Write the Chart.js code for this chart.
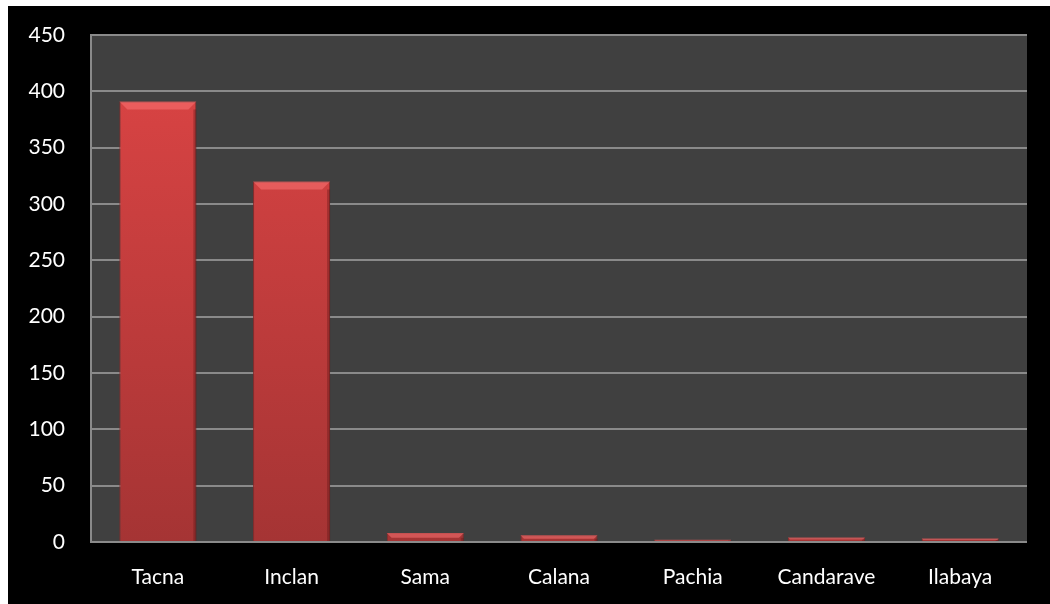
<!DOCTYPE html>
<html>
<head>
<meta charset="utf-8">
<script src="https://cdn.jsdelivr.net/npm/chart.js@4/dist/chart.umd.min.js"></script>
<style>
    html, body { margin: 0; padding: 0; background: #fff; }
    #wrap { position: absolute; left: 8px; top: 6px; width: 1042px; height: 598px; background: #000; }
</style>
</head>
<body>
<div id="wrap"><canvas id="chart" width="1042" height="598"></canvas></div>
<script>
const categories = ['Tacna', 'Inclan', 'Sama', 'Calana', 'Pachia', 'Candarave', 'Ilabaya'];
const values = [391, 320, 8, 6, 2, 4, 3];
const yTicks = [0, 50, 100, 150, 200, 250, 300, 350, 400, 450];

const FONT = { family: 'Lato, "Open Sans", sans-serif', size: 21 };

// light top bevel on each bar
const bevelPlugin = {
    id: 'bevel',
    afterDatasetsDraw(chart) {
        const ctx = chart.ctx;
        chart.getDatasetMeta(0).data.forEach((bar) => {
            const left = bar.x - bar.width / 2;
            const right = bar.x + bar.width / 2;
            const top = bar.y;
            const h = Math.min(8, (bar.base - bar.y) * 0.6);
            if (h <= 0) return;
            ctx.save();
            ctx.fillStyle = 'rgba(255, 120, 120, 0.5)';
            ctx.beginPath();
            ctx.moveTo(left, top);
            ctx.lineTo(right, top);
            ctx.lineTo(right - h, top + h);
            ctx.lineTo(left + h, top + h);
            ctx.closePath();
            ctx.fill();
            ctx.fillStyle = 'rgba(90, 20, 20, 0.35)';
            ctx.fillRect(right - 3, top + h, 3, bar.base - top - h);
            ctx.restore();
        });
    }
};

new Chart(document.getElementById('chart'), {
    type: 'bar',
    data: {
        labels: categories,
        datasets: [{
            data: values,
            backgroundColor: (context) => {
                const area = context.chart.chartArea;
                if (!area) return '#d04040';
                const g = context.chart.ctx.createLinearGradient(0, area.top, 0, area.bottom);
                g.addColorStop(0, '#de4545');
                g.addColorStop(1, '#a53434');
                return g;
            },
            borderColor: '#8a2a2a',
            borderWidth: 1,
            categoryPercentage: 1,
            barPercentage: 0.576
        }]
    },
    options: {
        responsive: false,
        animation: false,
        layout: { padding: { top: 29, right: 23, left: 0, bottom: 0 } },
        plugins: {
            legend: { display: false },
            tooltip: { enabled: false }
        },
        scales: {
            x: {
                grid: { display: false },
                border: { display: false },
                ticks: { color: '#fff', font: FONT, padding: 15, maxRotation: 0 },
                afterFit: (axis) => { axis.height = 62; }
            },
            y: {
                min: 0,
                max: 450,
                afterBuildTicks: (axis) => { axis.ticks = yTicks.map((v) => ({ value: v })); },
                grid: { color: '#8a8a8a', lineWidth: 2, drawTicks: true, tickLength: 26, tickColor: 'rgba(0,0,0,0)' },
                border: { display: true, color: '#8a8a8a', width: 2 },
                ticks: { color: '#fff', font: FONT, padding: 0 },
                afterFit: (axis) => { axis.width = 83; }
            }
        }
    },
    plugins: [
        {
            id: 'plotBg',
            beforeDraw(chart) {
                const a = chart.chartArea;
                chart.ctx.save();
                chart.ctx.fillStyle = '#404040';
                chart.ctx.fillRect(a.left, a.top, a.right - a.left, a.bottom - a.top);
                chart.ctx.restore();
            }
        },
        bevelPlugin
    ]
});
</script>
</body>
</html>
